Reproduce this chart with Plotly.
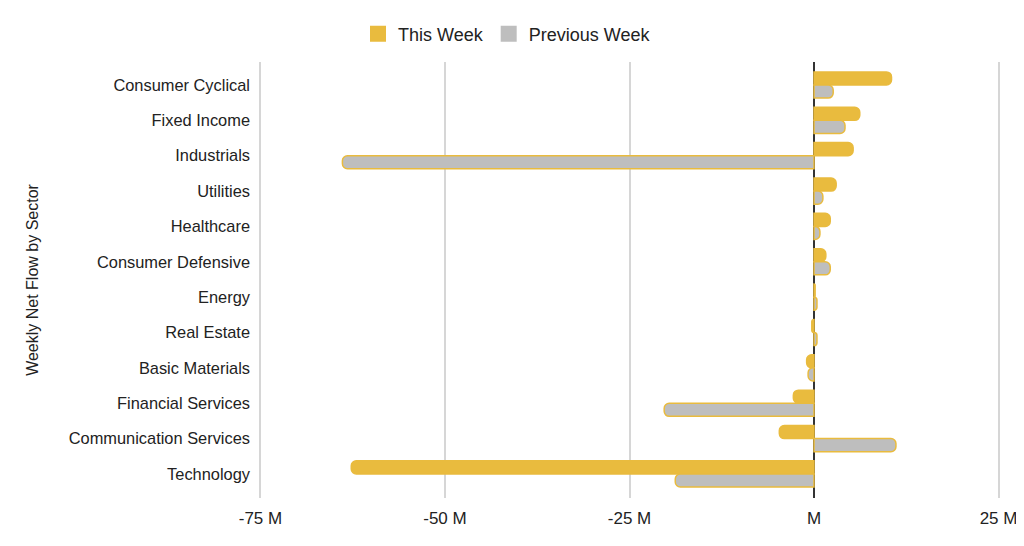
"""Weekly net flow by sector, this week vs previous week."""

import plotly.graph_objects as go

SECTORS = [
    'Consumer Cyclical', 'Fixed Income', 'Industrials', 'Utilities',
    'Healthcare', 'Consumer Defensive', 'Energy', 'Real Estate',
    'Basic Materials', 'Financial Services', 'Communication Services',
    'Technology',
]
THIS_WEEK = [10.5, 6.2, 5.3, 3.0, 2.2, 1.6, 0.15, -0.3, -1.0, -2.8, -4.7, -62.7]
PREVIOUS_WEEK = [2.6, 4.2, -63.9, 1.2, 0.8, 2.2, 0.4, 0.4, -0.8, -20.3, 11.1, -18.8]
TICK_VALUES = [-75, -50, -25, 0, 25]
TICK_LABELS = ['-75 M', '-50 M', '-25 M', 'M', '25 M']

YELLOW = '#E9BB3E'
GRAY = '#BEBEBE'

fig = go.Figure()
fig.add_trace(go.Bar(
    name='This Week', y=SECTORS, x=THIS_WEEK, orientation='h', showlegend=False,
    marker=dict(color=YELLOW, line=dict(color=YELLOW, width=1.5)),
))
fig.add_trace(go.Bar(
    name='Previous Week', y=SECTORS, x=PREVIOUS_WEEK, orientation='h', showlegend=False,
    marker=dict(color=GRAY, line=dict(color=YELLOW, width=1.5)),
))
# legend-only entries so the swatches are big squares like the original
for name, color in [('This Week', YELLOW), ('Previous Week', GRAY)]:
    fig.add_trace(go.Scatter(
        name=name, x=[None], y=[None], mode='markers',
        marker=dict(symbol='square', size=18, color=color),
    ))

# the page body has an 8px margin, so everything below is shifted back by 8px
fig.update_layout(
    width=1024, height=546,
    barmode='group', bargap=0.26, bargroupgap=0.0, barcornerradius=5,
    plot_bgcolor='white', paper_bgcolor='white',
    font=dict(family='Liberation Sans, Arial, sans-serif', size=16, color='#222222'),
    margin=dict(l=251, r=32, t=54, b=56),
    legend=dict(
        orientation='h', x=499 / 1024, xanchor='center', xref='container',
        y=1 - 26 / 546, yanchor='middle', yref='container',
        font=dict(size=18), itemwidth=30,
    ),
)
fig.update_xaxes(
    range=[-75.2, 25.2], tickvals=TICK_VALUES, ticktext=TICK_LABELS,
    showgrid=True, gridcolor='#D6D6D6', gridwidth=1.5,
    zeroline=True, zerolinecolor='#333333', zerolinewidth=1.5,
    tickfont=dict(size=17), ticklabelstandoff=8, automargin=False,
)
fig.update_yaxes(
    range=[11.68, -0.65], showgrid=False, ticks='', ticklabelstandoff=8,
    automargin=False, tickfont=dict(size=16.4),
    title=dict(text='Weekly Net Flow by Sector', font=dict(size=16), standoff=26),
)

fig.write_html('out.html')
